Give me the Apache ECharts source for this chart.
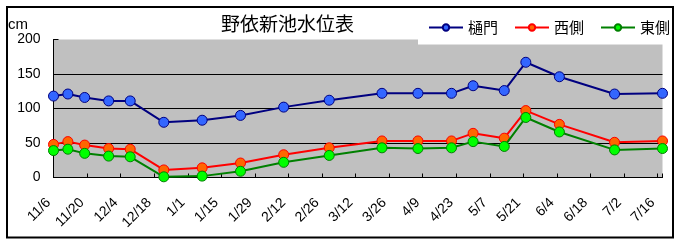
<!DOCTYPE html>
<html>
<head>
<meta charset="utf-8">
<script src="https://cdn.jsdelivr.net/npm/echarts@6/dist/echarts.min.js"></script>
<style>
html,body{margin:0;padding:0;background:#fff;}
#c{width:679px;height:242px;}
</style>
</head>
<body>
<div id="c"></div>
<script>
// ---- data ----
var startDate = '2006-11-06';
var dates = ['2006-11-06','2006-11-12','2006-11-19','2006-11-29','2006-12-08','2006-12-22',
  '2007-01-07','2007-01-23','2007-02-10','2007-03-01','2007-03-23','2007-04-07','2007-04-21',
  '2007-04-30','2007-05-13','2007-05-22','2007-06-05','2007-06-28','2007-07-18'];
var hinomon = [118,121,116,111,111,80,83,90,102,112,122,122,122,133,126,167,146,121,122];
var nishigawa = [48,52,47,42,41,11,14,21,33,43,53,53,53,64,57,97,77,51,53];
var higashigawa = [39,41,35,31,30,1,2,9,22,32,43,42,43,52,45,87,66,40,42];
var seriesNames = ['樋門','西側','東側'];
var tickLabels = ['11/6','11/20','12/4','12/18','1/1','1/15','1/29','2/12','2/26','3/12',
  '3/26','4/9','4/23','5/7','5/21','6/4','6/18','7/2','7/16'];
var tickDays = 14;
var yTicks = [0,50,100,150,200];
var titleText = '野依新池水位表';
var unitText = 'cm';

function dayNum(s){
  var p = s.split('-').map(Number);
  var q = startDate.split('-').map(Number);
  return Math.round((Date.UTC(p[0],p[1]-1,p[2]) - Date.UTC(q[0],q[1]-1,q[2]))/86400000);
}
var xs = dates.map(dayNum);
function pairs(vals){ return xs.map(function(x,i){ return [x, vals[i]]; }); }

var lineColors = ['#000080','#ff0000','#008000'];
var fillColors = ['#3366ff','#ff6600','#00ff00'];
var allVals = [hinomon, nishigawa, higashigawa];

var chart = echarts.init(document.getElementById('c'), null, {renderer:'canvas'});
var numFont = "'Liberation Sans', Arial, sans-serif";
var jpFont = "'Noto Sans CJK JP', sans-serif";

chart.setOption({
  animation:false,
  backgroundColor:'#ffffff',
  title:{
    text:titleText, left:216, top:9,
    textStyle:{fontSize:19, fontWeight:'normal', color:'#000', fontFamily:jpFont}
  },
  legend:{
    data:seriesNames, left:428, top:20, padding:0,
    itemWidth:34, itemHeight:8, itemGap:16,
    textStyle:{fontSize:15, color:'#000', fontFamily:jpFont}
  },
  graphic:[
    {type:'rect', shape:{x:7, y:7, width:666, height:230.5}, style:{fill:null, stroke:'#000', lineWidth:2}, z:100},
    {type:'rect', shape:{x:418, y:36, width:246, height:8.5}, style:{fill:'#fff'}, z:50},
    {type:'text', left:8, top:17, style:{text:unitText, fontSize:15, fill:'#000', fontFamily:numFont}, z:60}
  ],
  grid:{
    left:53.5, right:16.5, top:39.5, bottom:64.5,
    show:true, backgroundColor:'#c0c0c0', borderWidth:0
  },
  xAxis:{
    type:'value', min:0, max:xs[xs.length-1], interval:tickDays,
    axisLine:{show:true, lineStyle:{color:'#000', width:1}},
    axisTick:{show:true, inside:true, length:4, lineStyle:{color:'#000'}},
    splitLine:{show:false},
    axisLabel:{
      rotate:45, margin:18, fontSize:14, color:'#000', fontFamily:numFont,
      padding:[0,7,0,0],
      formatter:function(v){
        if (v % tickDays !== 0) return '';
        var k = v / tickDays;
        return tickLabels[k] || '';
      }
    }
  },
  yAxis:{
    type:'value', min:yTicks[0], max:yTicks[yTicks.length-1], interval:50,
    axisLine:{show:true, lineStyle:{color:'#000', width:1}},
    axisTick:{show:true, inside:true, length:5, lineStyle:{color:'#000'}},
    splitLine:{show:true, showMaxLine:false, lineStyle:{color:'#000', width:1}},
    axisLabel:{margin:13, fontSize:14, color:'#000', fontFamily:numFont}
  },
  series: seriesNames.map(function(n,i){
    return {
      name:n, type:'line', data:pairs(allVals[i]),
      symbol:'circle', symbolSize:10,
      lineStyle:{color:lineColors[i], width:2},
      itemStyle:{color:fillColors[i], borderColor:lineColors[i], borderWidth:1},
      z:2+i
    };
  })
});
</script>
</body>
</html>
